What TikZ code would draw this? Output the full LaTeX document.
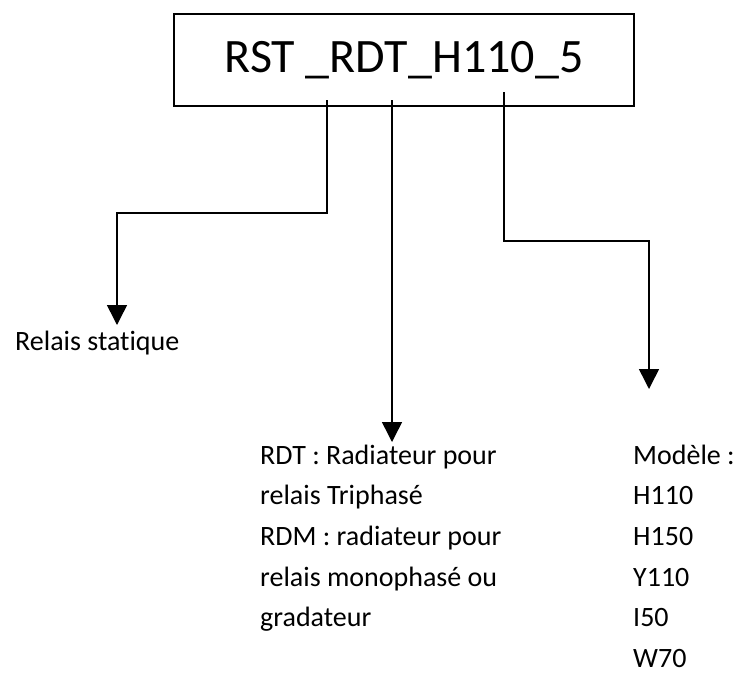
\documentclass[tikz,border=0pt]{standalone}
\usepackage{fontspec}
\setmainfont{Carlito}[Ligatures=NoCommon]
\usetikzlibrary{matrix,arrows.meta}
\tikzset{
	codebox/.style = { draw, line width=1.5pt, minimum width=460pt, minimum height=92pt, inner sep=0pt, font=\fontsize{48}{57}\selectfont },
	legende/.style = { font=\fontsize{28}{34}\selectfont, inner sep=0pt, anchor=base west },
	lien/.style = { line width=1.5pt, color=black, -{Triangle[length=20pt,width=20pt]} },
	liste/.style = { matrix of nodes, inner sep=0pt, row sep=17.6pt, anchor=north west,
		nodes = { font=\fontsize{28}{34}\selectfont, inner sep=0pt, text height=20pt, text depth=3pt, anchor=west } },
}

\begin{document}
\begin{tikzpicture}[x=1pt,y=1pt]
\useasboundingbox (0,0) rectangle (736,-673);

\node[codebox] (code) at (404,-60) {RST \_RDT\_H110\_5};

% ends of the connectors
\coordinate (s1) at (327,-100);
\coordinate (k1) at (117,-213);
\coordinate (t1) at (117,-325);
\coordinate (s2) at (392,-100);
\coordinate (t2) at (392,-442);
\coordinate (s3) at (504,-92);
\coordinate (k3) at (649,-241);
\coordinate (t3) at (649,-389);

\node[legende] (relais) at (15,-350) {Relais statique};

\matrix (radiateur) [liste] at (260,-444)
{
	RDT : Radiateur pour\\
	relais Triphasé\\
	RDM : radiateur pour\\
	relais monophasé ou\\
	gradateur\\
};

\matrix (modele) [liste] at (633,-444)
{
	Modèle :\\
	H110\\
	H150\\
	Y110\\
	I50\\
	W70\\
};

\draw[lien] (s1) |- (k1) -- (t1);
\draw[lien] (s2) -- (t2);
\draw[lien] (s3) |- (k3) -- (t3);
\end{tikzpicture}
\end{document}
